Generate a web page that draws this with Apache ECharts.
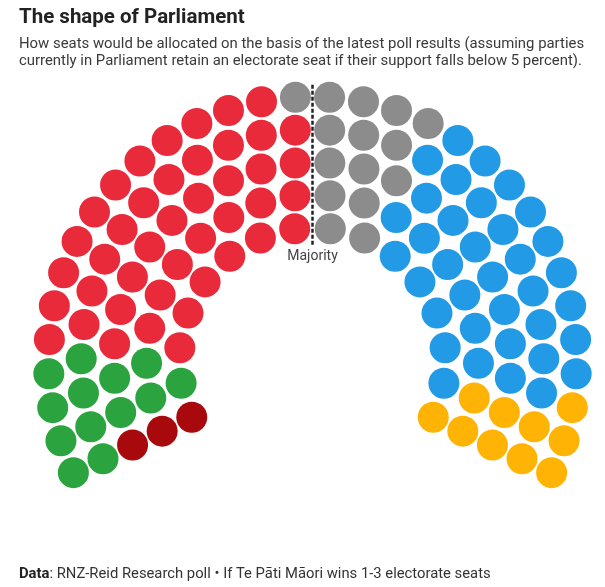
<!DOCTYPE html>
<html>
<head>
<meta charset="utf-8">
<script src="https://cdn.jsdelivr.net/npm/echarts@6/dist/echarts.min.js"></script>
<style>
  html, body { margin: 0; padding: 0; background: #fff; }
  #chart { width: 605px; height: 587px; }
</style>
</head>
<body>
<div id="chart"></div>
<script>
// parties, in seat order from left to right
const parties = ['Te Pāti Māori', 'Green', 'Labour', 'NZ First', 'National', 'ACT']
const seatCounts = [3, 13, 43, 15, 36, 10]
const partyColors = ['#a8090c', '#2ba33f', '#e92a3b', '#8c8c8c', '#229ae6', '#ffb405']

// hemicycle layout: seats per row (inner to outer)
const seatsPerRow = [16, 20, 24, 28, 32]
const innerRadius = 133.3
const rowGap = 32.67
const startAngle = 205.07
const endAngle = -25.07

// build all seat positions, then sort by angle (inner row first on ties)
function buildSeats() {
  const list = []
  seatsPerRow.forEach((n, row) => {
    const r = innerRadius + row * rowGap
    for (let j = 0; j < n; j++) {
      const a = startAngle - j * (startAngle - endAngle) / (n - 1)
      list.push({ r, a, row })
    }
  })
  list.sort((p, q) => {
    const d = Math.round((q.a - p.a) * 1e6)
    return d !== 0 ? d : p.row - q.row
  })
  return list
}

const chart = echarts.init(document.getElementById('chart'))
const seats = buildSeats()
let k = 0
const series = parties.map((name, i) => {
  const data = []
  for (let s = 0; s < seatCounts[i]; s++) {
    const p = seats[k++]
    data.push([p.r, (p.a + 360) % 360])
  }
  return {
    name,
    type: 'scatter',
    coordinateSystem: 'polar',
    symbol: 'circle',
    symbolSize: 31,
    itemStyle: { color: partyColors[i], opacity: 1 },
    silent: true,
    z: 3,
    data
  }
})

// majority line
series.push({
  type: 'line',
  coordinateSystem: 'polar',
  symbol: 'none',
  silent: true,
  clip: false,
  z: 2,
  lineStyle: { color: '#222', width: 2.5, type: [4, 2] },
  data: [[116, 90], [277, 90]]
})

chart.setOption({
  animation: false,
  title: [{
    text: 'The shape of Parliament',
    left: 14,
    top: 2,
    textStyle: { fontFamily: 'Roboto', fontSize: 20.5, fontWeight: 'bold', color: '#222' },
    subtext: 'How seats would be allocated on the basis of the latest poll results (assuming parties\ncurrently in Parliament retain an electorate seat if their support falls below 5 percent).',
    subtextStyle: { fontFamily: 'Roboto', fontSize: 14.9, color: '#3a3a3a', lineHeight: 17 },
    itemGap: 8
  }, {
    text: '{b|Data}: RNZ-Reid Research poll • If Te Pāti Māori wins 1-3 electorate seats',
    left: 14,
    top: 562,
    textStyle: {
      fontFamily: 'Roboto', fontSize: 14.8, fontWeight: 'normal', color: '#333',
      rich: { b: { fontFamily: 'Roboto', fontSize: 14.8, fontWeight: 'bold', color: '#222' } }
    }
  }],
  polar: { center: [312.5, 360.8], radius: 300 },
  radiusAxis: { min: 0, max: 300, show: false },
  angleAxis: { type: 'value', min: 0, max: 360, startAngle: 0, clockwise: false, show: false },
  graphic: [{
    type: 'text',
    x: 312.5,
    y: 256,
    style: { text: 'Majority', font: '14px Roboto', fill: '#444', textAlign: 'center', textVerticalAlign: 'middle' }
  }],
  series
})
</script>
</body>
</html>
